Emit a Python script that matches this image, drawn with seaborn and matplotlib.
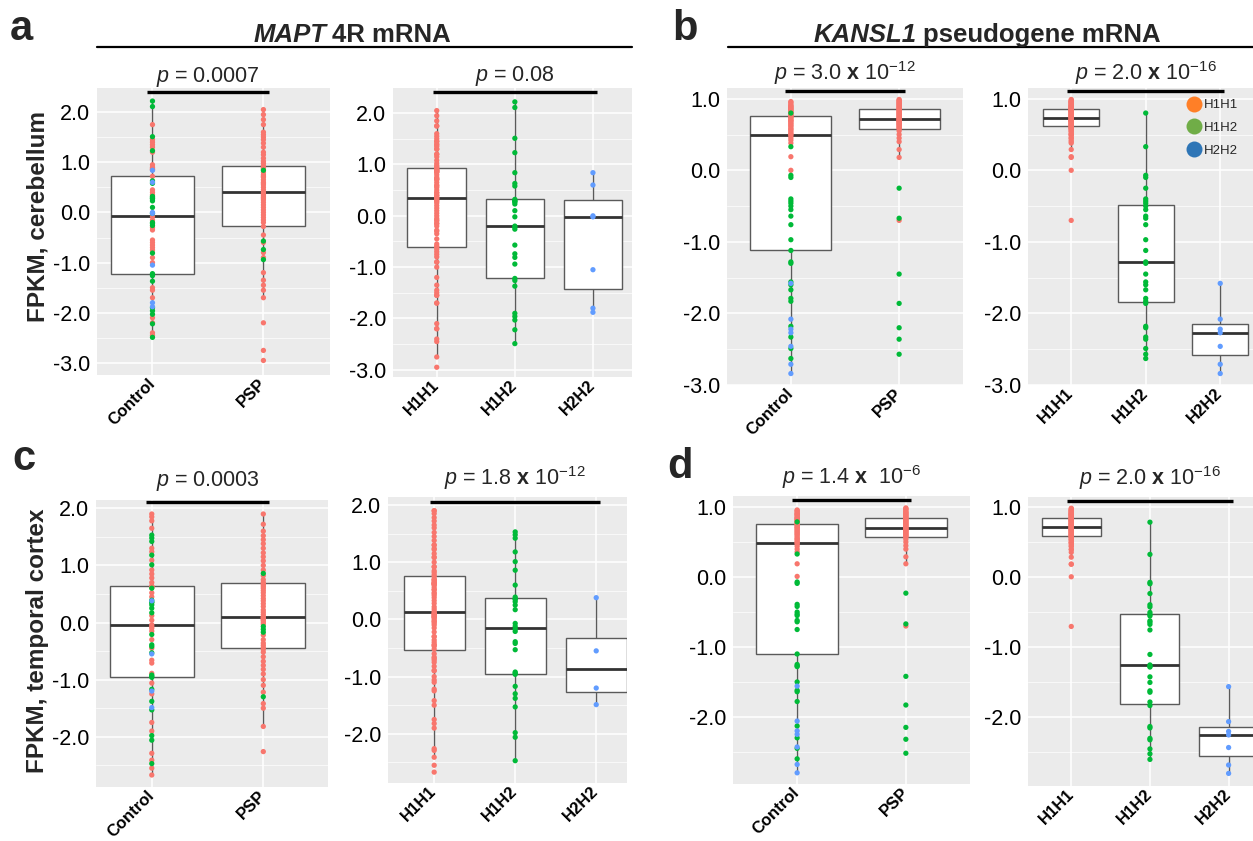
import pandas as pd
import matplotlib
matplotlib.use("Agg")
import matplotlib.pyplot as plt
import matplotlib.transforms as mtransforms
from matplotlib.lines import Line2D
from matplotlib.ticker import MultipleLocator
import seaborn as sns

GROUPS = ["Control", "PSP"]
HAPS = ["H1H1", "H1H2", "H2H2"]
POINT_COLORS = ["#F8766D", "#00BA38", "#619CFF"]
LEGEND_COLORS = ["#FF7F27", "#70AD47", "#2E75B6"]

# ---- a: MAPT 4R, cerebellum ----
a_ctrl_h1h1 = [1.75, 1.45, 1.40, 1.35, 1.30, 1.20, 0.88, 0.86, 0.95, 0.90, 0.85, 0.72,
               0.35, 0.40, 0.45, -0.08, -0.15, -0.30, -0.35, -0.55, -0.60, -0.65, -0.70,
               -0.75, -0.90, -1.00, -1.50, -1.55, -1.70, -2.10, -2.20, -2.40, -2.45]
a_ctrl_h1h2 = [2.22, 2.11, 1.51, 1.23, 0.63, 0.58, 0.32, 0.30, 0.28, 0.27, 0.23, 0.10,
               -0.02, -0.20, -0.22, -0.26, -0.81, -1.22, -1.26, -1.37, -1.90, -1.96,
               -2.03, -2.22, -2.49]
a_ctrl_h2h2 = [0.84, 0.60, 0.00, -0.02, -1.05, -1.80, -1.88]
a_psp_h1h1 = [2.05, 1.95, 1.85, 1.75, 1.60, 1.55, 1.50, 1.45, 1.38, 1.30, 1.20, 1.15,
              1.08, 1.02, 0.98, 0.93, 0.90, 0.88, 0.85, 0.80, 0.75, 0.72, 0.70, 0.65,
              0.60, 0.58, 0.55, 0.50, 0.45, 0.40, 0.36, 0.33, 0.30, 0.28, 0.25, 0.20,
              0.15, 0.10, 0.05, 0.00, -0.05, -0.10, -0.15, -0.20, -0.28, -0.45, -0.60,
              -0.80, -0.90, -1.20, -1.35, -1.45, -1.55, -1.70, -2.20, -2.75, -2.95]
a_psp_h1h2 = [0.84, -0.57, -0.74, -0.94]
a_psp_h2h2 = []

# ---- b: KANSL1 pseudogene, cerebellum ----
b_ctrl_h1h1 = [0.00, 0.19, 0.38, 0.42, 0.45, 0.48, 0.50, 0.51, 0.53, 0.55, 0.57, 0.58,
               0.60, 0.62, 0.63, 0.65, 0.66, 0.68, 0.69, 0.70, 0.71, 0.73, 0.74, 0.75,
               0.76, 0.77, 0.78, 0.79, 0.81, 0.82, 0.83, 0.84, 0.85, 0.86, 0.87, 0.88,
               0.89, 0.90, 0.91, 0.93, 0.95, 0.96]
b_ctrl_h1h2 = [0.80, 0.33, -0.07, -0.10, -0.40, -0.43, -0.46, -0.50, -0.55, -0.64,
               -0.76, -0.97, -1.12, -1.28, -1.30, -1.56, -1.60, -1.67, -1.79, -1.83,
               -2.18, -2.33, -2.49, -2.63]
b_ctrl_h2h2 = [-1.58, -2.08, -2.22, -2.27, -2.46, -2.71, -2.84]
b_psp_h1h1 = [-0.70, 0.18, 0.29, 0.40, 0.45, 0.50, 0.55, 0.58, 0.59, 0.60, 0.62, 0.62,
              0.64, 0.65, 0.65, 0.67, 0.68, 0.68, 0.69, 0.70, 0.70, 0.71, 0.72, 0.73,
              0.74, 0.75, 0.76, 0.77, 0.78, 0.79, 0.80, 0.81, 0.82, 0.83, 0.84, 0.85,
              0.86, 0.87, 0.88, 0.89, 0.90, 0.91, 0.92, 0.93, 0.94, 0.95, 0.96, 0.97,
              0.98, 0.99]
b_psp_h1h2 = [-0.25, -0.67, -1.45, -1.86, -2.20, -2.36, -2.57]
b_psp_h2h2 = []

# ---- c: MAPT 4R, temporal cortex ----
c_ctrl_h1h1 = [-2.67, -2.55, -2.41, -2.29, -1.90, -1.75, -1.25, -1.06, -0.89, -0.71,
               -0.66, -0.45, -0.30, -0.15, -0.10, -0.07, -0.04, 0.04, 0.12, 0.45, 0.52,
               0.61, 0.62, 0.63, 0.64, 0.70, 0.78, 0.85, 0.92, 1.09, 1.24, 1.30, 1.65,
               1.78, 1.85, 1.90]
c_ctrl_h1h2 = [1.53, 1.48, 1.42, 1.18, 1.01, 0.60, 0.39, 0.36, 0.35, 0.31, 0.25, 0.17,
               -0.21, -0.39, -0.42, -0.53, -0.92, -0.94, -0.96, -1.17, -1.38, -1.53,
               -1.98, -2.06, -2.47]
c_ctrl_h2h2 = [0.38, -0.55, -1.20, -1.49]
c_psp_h1h1 = [-2.26, -1.82, -1.50, -1.42, -1.22, -1.10, -1.00, -0.90, -0.82, -0.75,
              -0.68, -0.60, -0.52, -0.47, -0.44, -0.40, -0.36, -0.30, -0.22, -0.03,
              0.00, 0.03, 0.05, 0.06, 0.08, 0.09, 0.10, 0.14, 0.18, 0.22, 0.28, 0.33,
              0.38, 0.42, 0.47, 0.52, 0.56, 0.60, 0.63, 0.66, 0.68, 0.70, 0.75, 0.82,
              0.92, 1.00, 1.08, 1.15, 1.22, 1.30, 1.38, 1.45, 1.52, 1.60, 1.72, 1.90]
c_psp_h1h2 = [0.86, -0.07, -0.12, -0.17, -1.30]
c_psp_h2h2 = []

# ---- d: KANSL1 pseudogene, temporal cortex ----
d_ctrl_h1h1 = [0.01, 0.19, 0.36, 0.40, 0.44, 0.47, 0.49, 0.50, 0.52, 0.54, 0.55, 0.57,
               0.59, 0.61, 0.62, 0.64, 0.65, 0.67, 0.68, 0.70, 0.71, 0.72, 0.74, 0.75,
               0.76, 0.77, 0.78, 0.80, 0.81, 0.82, 0.83, 0.84, 0.85, 0.86, 0.88, 0.89,
               0.90, 0.91, 0.92, 0.94, 0.95, 0.96]
d_ctrl_h1h2 = [0.79, 0.33, -0.07, -0.09, -0.39, -0.42, -0.50, -0.53, -0.55, -0.62,
               -0.64, -0.75, -1.10, -1.25, -1.27, -1.28, -1.50, -1.62, -1.64, -1.78,
               -2.13, -2.30, -2.45, -2.60]
d_ctrl_h2h2 = [-1.56, -2.06, -2.20, -2.25, -2.43, -2.68, -2.80]
d_psp_h1h1 = [-0.70, 0.19, 0.29, 0.40, 0.45, 0.50, 0.54, 0.57, 0.58, 0.59, 0.60, 0.61,
              0.62, 0.63, 0.64, 0.65, 0.66, 0.67, 0.68, 0.69, 0.69, 0.70, 0.71, 0.72,
              0.73, 0.74, 0.75, 0.76, 0.77, 0.78, 0.79, 0.80, 0.81, 0.82, 0.83, 0.84,
              0.85, 0.86, 0.87, 0.88, 0.89, 0.90, 0.91, 0.92, 0.93, 0.94, 0.96, 0.97,
              0.98, 0.99]
d_psp_h1h2 = [-0.23, -0.67, -1.42, -1.83, -2.15, -2.32, -2.52]
d_psp_h2h2 = []

P_TEXT = {
    "a_grp": r"$p$ = 0.0007", "a_hap": r"$p$ = 0.08",
    "b_grp": r"$p$ = 3.0 $\mathbf{x}$ 10$^{-12}$", "b_hap": r"$p$ = 2.0 $\mathbf{x}$ 10$^{-16}$",
    "c_grp": r"$p$ = 0.0003", "c_hap": r"$p$ = 1.8 $\mathbf{x}$ 10$^{-12}$",
    "d_grp": r"$p$ = 1.4 $\mathbf{x}$  10$^{-6}$", "d_hap": r"$p$ = 2.0 $\mathbf{x}$ 10$^{-16}$",
}


def make_frame(ctrl, psp):
    rows = []
    for grp, lists in zip(GROUPS, (ctrl, psp)):
        for hap, vals in zip(HAPS, lists):
            rows += [(grp, hap, v) for v in vals]
    return pd.DataFrame(rows, columns=["group", "hap", "fpkm"])


sns.set_style("darkgrid", {"axes.facecolor": "#EBEBEB", "grid.color": "white"})
plt.rcParams["font.family"] = ["Liberation Sans", "DejaVu Sans"]
plt.rcParams["mathtext.fontset"] = "custom"
plt.rcParams["mathtext.rm"] = "Liberation Sans"
plt.rcParams["mathtext.it"] = "Liberation Sans:italic"
plt.rcParams["mathtext.bf"] = "Liberation Sans:bold"
plt.rcParams["axes.unicode_minus"] = False

W, H = 1253, 841
fig = plt.figure(figsize=(W / 100, H / 100), dpi=100)


def px_axes(x0, y0, x1, y1):
    return fig.add_axes([x0 / W, 1 - y1 / H, (x1 - x0) / W, (y1 - y0) / H])


def draw(ax, df, xcol, order, xlim, ylim, yticks, ptxt, text_y, bar_y):
    sns.boxplot(data=df, x=xcol, y="fpkm", order=order, color="white",
                linecolor="#5a5a5a", linewidth=1.0, width=0.75, showfliers=False,
                showcaps=False, medianprops={"color": "#333333", "linewidth": 2.0},
                ax=ax)
    sns.stripplot(data=df, x=xcol, y="fpkm", order=order, hue="hap",
                  hue_order=HAPS, palette=POINT_COLORS, jitter=False, size=3.8,
                  linewidth=0, legend=False, zorder=3, ax=ax)
    ax.set_xlim(*xlim)
    ax.set_ylim(*ylim)
    ax.set_yticks(yticks)
    ax.set_yticklabels([f"{t:.1f}" for t in yticks])
    ax.yaxis.set_minor_locator(MultipleLocator(0.5))
    ax.set_xticks(range(len(order)))
    ax.set_xticklabels(order, rotation=45, ha="right", va="center",
                       rotation_mode="anchor", fontweight="bold", fontsize=12)
    ax.grid(True, which="major", color="white", linewidth=1.1)
    ax.grid(True, which="minor", axis="y", color="white", linewidth=0.5)
    ax.set_axisbelow(True)
    ax.set_xlabel("")
    ax.set_ylabel("")
    for s in ax.spines.values():
        s.set_visible(False)
    ax.tick_params(axis="both", which="major", length=3, width=0.8,
                   color="#333333", labelcolor="black")
    ax.tick_params(axis="y", which="minor", length=0)
    ax.tick_params(axis="y", labelsize=15.5, pad=2)
    ax.tick_params(axis="x", pad=1.5)

    trans = mtransforms.blended_transform_factory(ax.transData, fig.transFigure)
    x0, x1 = -0.05, len(order) - 1 + 0.05
    ax.plot([x0, x1], [1 - bar_y / H] * 2, transform=trans, color="black",
            linewidth=2.4, clip_on=False, solid_capstyle="butt")
    ax.text((x0 + x1) / 2, 1 - text_y / H, ptxt, transform=trans, ha="center",
            va="baseline", fontsize=15.5)


df_a = make_frame((a_ctrl_h1h1, a_ctrl_h1h2, a_ctrl_h2h2), (a_psp_h1h1, a_psp_h1h2, a_psp_h2h2))
df_b = make_frame((b_ctrl_h1h1, b_ctrl_h1h2, b_ctrl_h2h2), (b_psp_h1h1, b_psp_h1h2, b_psp_h2h2))
df_c = make_frame((c_ctrl_h1h1, c_ctrl_h1h2, c_ctrl_h2h2), (c_psp_h1h1, c_psp_h1h2, c_psp_h2h2))
df_d = make_frame((d_ctrl_h1h1, d_ctrl_h1h2, d_ctrl_h2h2), (d_psp_h1h1, d_psp_h1h2, d_psp_h2h2))

ticks_a = [2.0, 1.0, 0.0, -1.0, -2.0, -3.0]
ticks_b = [1.0, 0.0, -1.0, -2.0, -3.0]
ticks_c = [2.0, 1.0, 0.0, -1.0, -2.0]
ticks_d = [1.0, 0.0, -1.0, -2.0]

ax = px_axes(97, 88, 330, 375)
draw(ax, df_a, "group", GROUPS, (-0.5, 1.6), (-3.24, 2.48), ticks_a, P_TEXT["a_grp"], 82, 92)
ax = px_axes(393, 88, 632, 377)
draw(ax, df_a, "hap", HAPS, (-0.56, 2.5), (-3.14, 2.49), ticks_a, P_TEXT["a_hap"], 81, 92)
ax = px_axes(727, 88, 963, 385)
draw(ax, df_b, "group", GROUPS, (-0.59, 1.59), (-3.0, 1.15), ticks_b, P_TEXT["b_grp"], 80, 91)
ax_leg = px_axes(1028, 88, 1253, 385)
draw(ax_leg, df_b, "hap", HAPS, (-0.58, 2.44), (-3.0, 1.15), ticks_b, P_TEXT["b_hap"], 80, 91)

ax = px_axes(96, 500, 328, 787)
draw(ax, df_c, "group", GROUPS, (-0.5, 1.58), (-2.88, 2.145), ticks_c, P_TEXT["c_grp"], 486, 502)
ax = px_axes(388, 497, 627, 783)
draw(ax, df_c, "hap", HAPS, (-0.57, 2.38), (-2.86, 2.14), ticks_c, P_TEXT["c_hap"], 485, 502)
ax = px_axes(733, 496, 970, 784)
draw(ax, df_d, "group", GROUPS, (-0.59, 1.59), (-2.96, 1.16), ticks_d, P_TEXT["d_grp"], 484, 500)
ax = px_axes(1028, 497, 1253, 786)
draw(ax, df_d, "hap", HAPS, (-0.55, 2.31), (-2.98, 1.15), ticks_d, P_TEXT["d_hap"], 485, 501)

# legend (haplotype key)
handles = [Line2D([], [], marker="o", linestyle="", markersize=11.5, color=c,
                  markeredgewidth=0, label=h) for h, c in zip(HAPS, LEGEND_COLORS)]
ax_leg.legend(handles=handles, loc="upper left", bbox_to_anchor=(1187 / W, 1 - 99 / H),
              bbox_transform=fig.transFigure, frameon=False, fontsize=9.5,
              handlelength=1.0, handletextpad=0.3, labelspacing=0.8, borderpad=0,
              borderaxespad=0)

# y labels
fig.text(38 / W, 1 - 216 / H, "FPKM, cerebellum", rotation=90, ha="center",
         va="center", fontsize=17.5, fontweight="bold")
fig.text(38 / W, 1 - 641 / H, "FPKM, temporal cortex", rotation=90, ha="center",
         va="center", fontsize=17.5, fontweight="bold")

# panel letters
for letter, x, y in (("a", 10, 40), ("b", 672, 40), ("c", 12, 470), ("d", 667, 478)):
    fig.text(x / W, 1 - y / H, letter, fontsize=30, fontweight="bold",
             ha="left", va="baseline")

# gene headers with underline
fig.text(327 / W, 1 - 42 / H, "MAPT", fontsize=18.5, fontweight="bold",
         fontstyle="italic", ha="right", va="baseline")
fig.text(332 / W, 1 - 42 / H, "4R mRNA", fontsize=18.5, fontweight="bold",
         ha="left", va="baseline")
fig.text(917 / W, 1 - 42 / H, "KANSL1", fontsize=18.5, fontweight="bold",
         fontstyle="italic", ha="right", va="baseline")
fig.text(923 / W, 1 - 42 / H, "pseudogene mRNA", fontsize=18.5, fontweight="bold",
         ha="left", va="baseline")
fig.add_artist(Line2D([97 / W, 632 / W], [1 - 47 / H] * 2, color="black", linewidth=1.6))
fig.add_artist(Line2D([728 / W, 1.0], [1 - 47 / H] * 2, color="black", linewidth=1.6))

fig.savefig("out.png", dpi=100)
